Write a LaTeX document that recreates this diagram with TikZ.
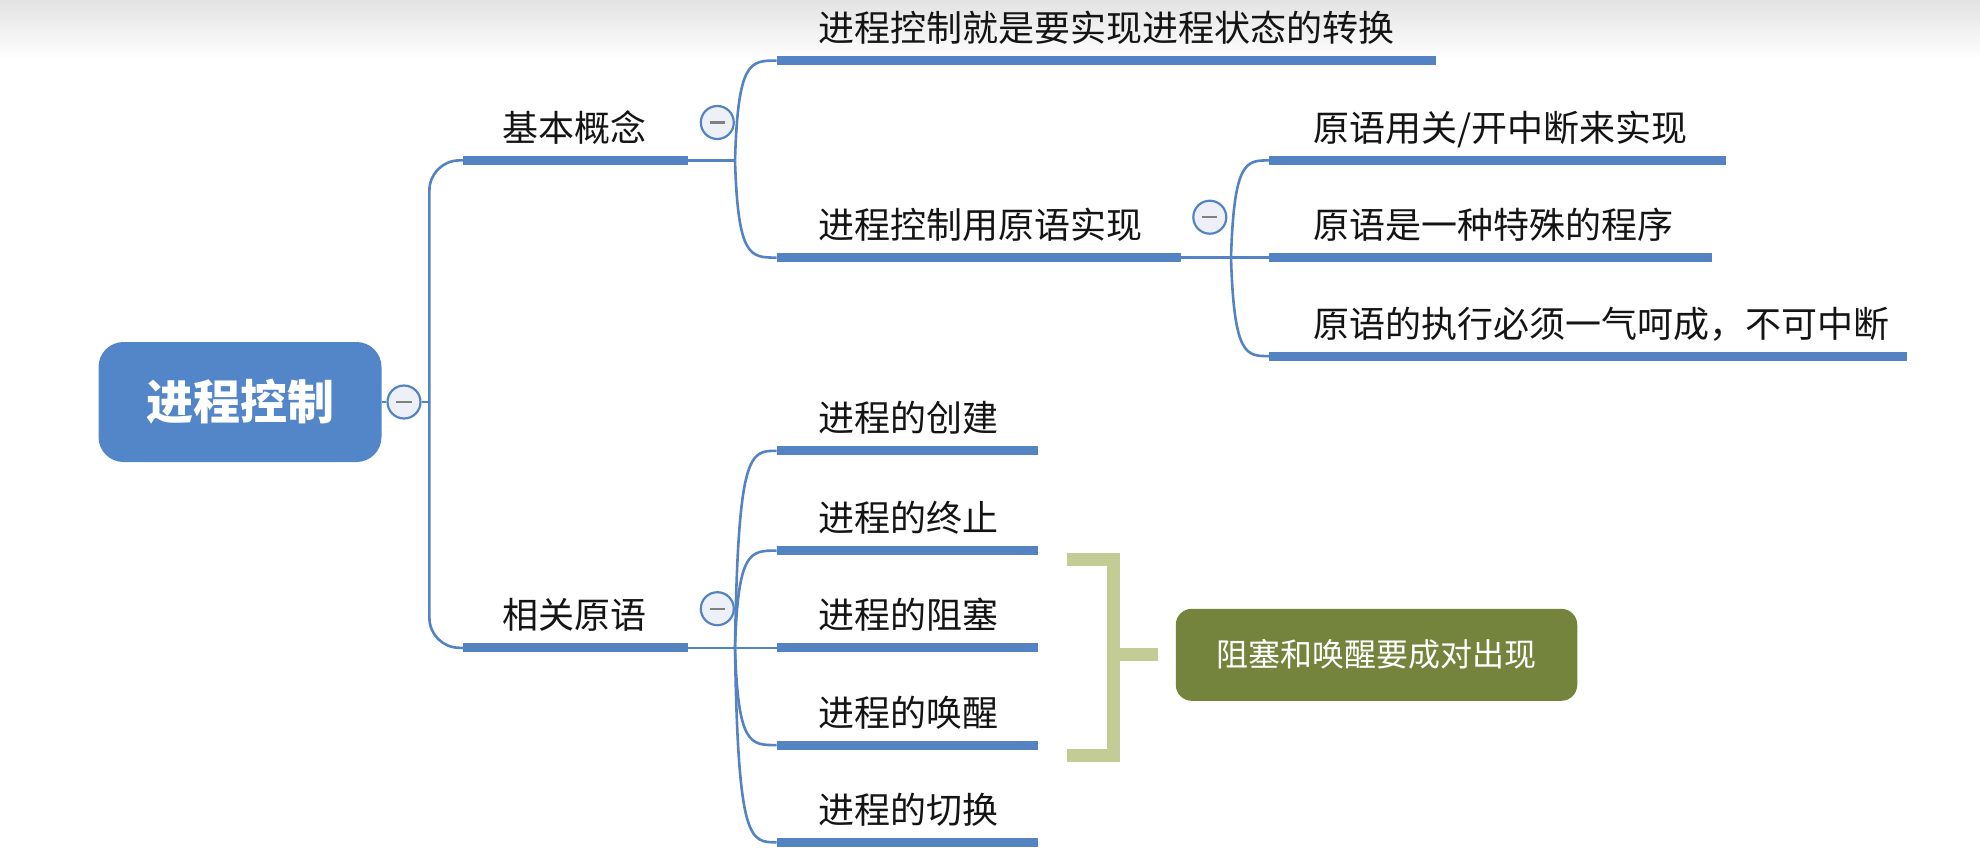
\documentclass[tikz,border=0pt]{standalone}
\usepackage{fontspec}
\setmainfont{Noto Sans CJK SC}
\definecolor{lineblue}{RGB}{84,131,196}
\definecolor{rootblue}{RGB}{82,134,200}
\definecolor{olive}{RGB}{117,132,60}
\definecolor{lightolive}{RGB}{196,204,150}
\definecolor{circfill}{RGB}{238,240,247}
\definecolor{txt}{RGB}{20,20,20}
\tikzset{
  lbl/.style={inner sep=0pt, anchor=base west, text=txt, font=\fontsize{18pt}{20pt}\selectfont},
  uline/.style={draw=lineblue, line width=4.5pt},
  thin/.style={draw=lineblue, line width=1.3pt},
  collapse/.style={circle, draw=lineblue, line width=1.1pt, fill=circfill, minimum size=16.5pt, inner sep=0pt,
    path picture={\draw[gray, line width=1.1pt] ([xshift=-3.8pt]path picture bounding box.center) -- ([xshift=3.8pt]path picture bounding box.center);}},
  bracket/.style={draw=lightolive, line width=6.5pt}
}
\begin{document}
\begin{tikzpicture}[x=0.5pt, y=-0.5pt]
\useasboundingbox (0,0) rectangle (1980,862);
\shade[top color=black!11, bottom color=white] (0,0) rectangle (1980,60);

% root
\node[fill=rootblue, rounded corners=12.5pt, minimum width=141.5pt, minimum height=60pt, inner sep=0pt,
  text=white, font=\fontsize{23.5pt}{26pt}\selectfont\bfseries] (root) at (240,402) {进程控制};
\node[collapse] (c0) at (404,402) {};
\coordinate (trunk) at (429.4,402);
\draw[thin] (root.east) -- (c0.west);
\draw[thin] (c0.east) -- (trunk);

% level 1
\coordinate (k1a) at (463.4,160.4); \coordinate (k1b) at (688.2,160.4);
\coordinate (k2a) at (463.4,647.8); \coordinate (k2b) at (688.2,647.8);
\node[lbl, anchor=base] (k1) at (574.6,141.4) {基本概念};
\node[lbl, anchor=base] (k2) at (574.6,628.8) {相关原语};
\draw[thin, rounded corners=15pt] (k1a) -- (429.4,160.4) -- (429.4,647.8) -- (k2a);
\draw[uline] (k1a) -- (k1b);
\draw[uline] (k2a) -- (k2b);
\node[collapse] (c1) at (717.3,122.5) {};
\node[collapse] (c2) at (717.3,608.7) {};
\coordinate (j1) at (735,160.4);
\coordinate (j2) at (735,647.8);
\draw[thin] (k1b) -- (j1);
\draw[thin] (k2b) -- (j2);

% children of 基本概念
\coordinate (a1a) at (776.6,60.6); \coordinate (a1b) at (1435.8,60.6);
\coordinate (a2a) at (776.6,257.6); \coordinate (a2b) at (1180.7,257.6);
\node[lbl] (a1) at (818,41.6) {进程控制就是要实现进程状态的转换};
\node[lbl] (a2) at (818,238.6) {进程控制用原语实现};
\draw[uline] (a1a) -- (a1b);
\draw[uline] (a2a) -- (a2b);
\draw[thin] (j1) .. controls (738,60.6) and (750,60.6) .. (a1a);
\draw[thin] (j1) .. controls (738,257.6) and (750,257.6) .. (a2a);
\node[collapse] (c3) at (1209.8,217.2) {};
\coordinate (j3) at (1231,257.6);
\draw[thin] (a2b) -- (j3);

% children of 进程控制用原语实现
\coordinate (s1a) at (1269.1,160.4); \coordinate (s1b) at (1726,160.4);
\coordinate (s2a) at (1269.1,257.6); \coordinate (s2b) at (1712,257.6);
\coordinate (s3a) at (1269.1,356.1); \coordinate (s3b) at (1907,356.1);
\node[lbl] (s1) at (1313,141.4) {原语用关/开中断来实现};
\node[lbl] (s2) at (1313,238.6) {原语是一种特殊的程序};
\node[lbl] (s3) at (1313,337.1) {原语的执行必须一气呵成，不可中断};
\draw[uline] (s1a) -- (s1b);
\draw[uline] (s2a) -- (s2b);
\draw[uline] (s3a) -- (s3b);
\draw[thin] (j3) .. controls (1234,160.4) and (1246,160.4) .. (s1a);
\draw[thin] (j3) -- (s2a);
\draw[thin] (j3) .. controls (1234,356.1) and (1246,356.1) .. (s3a);

% children of 相关原语
\coordinate (p1a) at (776.6,450.8); \coordinate (p1b) at (1038,450.8);
\coordinate (p2a) at (776.6,550.6); \coordinate (p2b) at (1038,550.6);
\coordinate (p3a) at (776.6,647.8); \coordinate (p3b) at (1038,647.8);
\coordinate (p4a) at (776.6,745.1); \coordinate (p4b) at (1038,745.1);
\coordinate (p5a) at (776.6,842.3); \coordinate (p5b) at (1038,842.3);
\node[lbl] (p1) at (818,431.8) {进程的创建};
\node[lbl] (p2) at (818,531.6) {进程的终止};
\node[lbl] (p3) at (818,628.8) {进程的阻塞};
\node[lbl] (p4) at (818,726.1) {进程的唤醒};
\node[lbl] (p5) at (818,823.3) {进程的切换};
\foreach \i in {1,...,5} {\draw[uline] (p\i a) -- (p\i b);}
\draw[thin] (j2) .. controls (738,450.8) and (750,450.8) .. (p1a);
\draw[thin] (j2) .. controls (738,550.6) and (750,550.6) .. (p2a);
\draw[thin] (j2) -- (p3a);
\draw[thin] (j2) .. controls (738,745.1) and (750,745.1) .. (p4a);
\draw[thin] (j2) .. controls (738,842.3) and (750,842.3) .. (p5a);

% bracket and summary
\node[fill=olive, rounded corners=8pt, minimum width=200.75pt, minimum height=46pt, inner sep=0pt,
  text=white, font=\fontsize{16pt}{18pt}\selectfont] (sum) at (1376.5,654.8) {阻塞和唤醒要成对出现};
\coordinate (bt) at (1067,559.4);
\coordinate (bb) at (1067,755.2);
\coordinate (bm) at (1113.8,654.8);
\draw[bracket, line cap=butt] (bt) -- (1113.8,559.4) -- (1113.8,755.2) -- (bb);
\draw[bracket] (bm) -- (1158,654.8);
\end{tikzpicture}
\end{document}
